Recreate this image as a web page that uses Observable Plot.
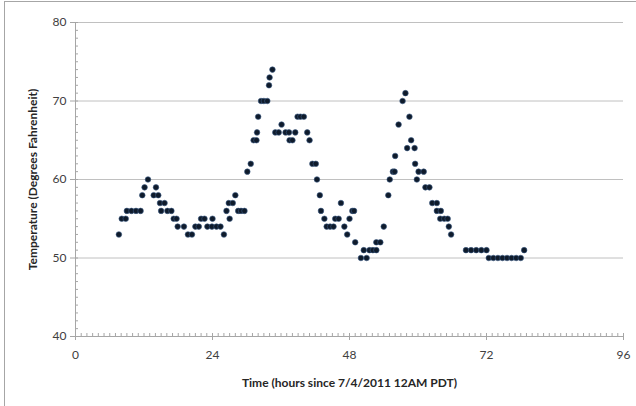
<!DOCTYPE html>
<html>
<head>
<meta charset="utf-8">
<script src="https://cdn.jsdelivr.net/npm/d3@7"></script>
<script src="https://cdn.jsdelivr.net/npm/@observablehq/plot@0.6"></script>
<style>
  html, body { margin: 0; padding: 0; background: white; }
  #wrap { position: relative; width: 636px; height: 406px; overflow: hidden; }
  #frame { position: absolute; left: 4px; top: 1px; width: 700px; height: 500px;
           border-left: 1px solid #a6a6a6; border-top: 1px solid #a6a6a6; pointer-events: none; }
</style>
</head>
<body>
<div id="wrap"><div id="frame"></div></div>
<script>
// Hours since 7/4/2011 12AM PDT
const hours = [
  7.6, 8.1, 8.8, 9.0, 9.8, 10.6, 11.4, 11.7, 12.1, 12.7,
  13.7, 14.1, 14.5, 14.8, 15.0, 15.6, 16.1, 16.8, 17.2, 17.7,
  17.9, 19.0, 19.7, 20.4, 21.0, 21.6, 22.0, 22.6, 23.1, 23.9,
  24.0, 24.7, 25.4, 26.0, 26.45, 26.85, 27.0, 27.55, 28.0, 28.5,
  29.0, 29.6, 30.1, 30.7, 31.2, 31.7, 31.8, 32.0, 32.5, 33.0,
  33.6, 33.9, 34.0, 34.5, 35.0, 35.6, 36.1, 36.8, 37.4, 37.5,
  38.0, 38.5, 38.9, 39.4, 40.0, 40.6, 41.0, 41.5, 42.1, 42.3,
  42.8, 43.0, 43.6, 44.0, 44.6, 45.2, 45.5, 46.1, 46.5, 47.1,
  47.6, 48.0, 48.5, 48.8, 49.0, 50.0, 50.5, 51.0, 51.5, 52.1,
  52.7, 52.7, 53.4, 54.0, 54.8, 55.05, 55.6, 55.9, 56.0, 56.6,
  57.3, 57.8, 58.1, 58.5, 58.8, 59.4, 59.5, 59.8, 60.1, 61.0,
  61.3, 62.0, 62.5, 63.3, 63.3, 63.9, 64.0, 64.6, 65.2, 65.4,
  65.8, 68.4, 69.3, 70.2, 71.1, 72.0, 72.4, 73.2, 74.0, 74.8,
  75.6, 76.4, 77.2, 78.0, 78.6
];
// Temperature (degrees Fahrenheit)
const temps = [
  53, 55, 55, 56, 56, 56, 56, 58, 59, 60,
  58, 59, 58, 57, 56, 57, 56, 56, 55, 55,
  54, 54, 53, 53, 54, 54, 55, 55, 54, 54,
  55, 54, 54, 53, 56, 57, 55, 57, 58, 56,
  56, 56, 61, 62, 65, 65, 66, 68, 70, 70,
  70, 72, 73, 74, 66, 66, 67, 66, 66, 65,
  65, 66, 68, 68, 68, 66, 65, 62, 62, 60,
  58, 56, 55, 54, 54, 54, 55, 55, 57, 54,
  53, 55, 56, 56, 52, 50, 51, 50, 51, 51,
  51, 52, 52, 54, 58, 60, 61, 61, 63, 67,
  70, 71, 64, 68, 65, 64, 62, 60, 61, 61,
  59, 59, 57, 57, 56, 55, 56, 55, 55, 54,
  53, 51, 51, 51, 51, 51, 50, 50, 50, 50,
  50, 50, 50, 50, 51
];
const xTicks = [0, 24, 48, 72, 96];
const yTicks = [40, 50, 60, 70, 80];
const xTitle = "Time (hours since 7/4/2011 12AM PDT)";
const yTitle = "Temperature (Degrees Fahrenheit)";

const data = hours.map((h, i) => ({h, t: temps[i]}));
const axisColor = "#a6a6a6";

const chart = Plot.plot({
  width: 636,
  height: 406,
  marginLeft: 75,
  marginRight: 13,
  marginTop: 22,
  marginBottom: 70,
  x: {domain: [0, 96]},
  y: {domain: [40, 80]},
  style: {fontFamily: "Lato, 'Open Sans', sans-serif", fontSize: "12px", color: "#404040", background: "transparent"},
  marks: [
    Plot.gridY(yTicks.filter(d => d > 40), {stroke: "#c0c0c0", strokeOpacity: 1, strokeWidth: 1}),
    Plot.axisY(d3.range(40, 81), {tickSize: -3, text: null, stroke: axisColor, label: null}),
    Plot.axisX(d3.range(0, 97), {tickSize: -3, text: null, stroke: axisColor, label: null}),
    Plot.axisY(yTicks, {tickSize: 5, tickPadding: 4, stroke: axisColor, fill: "#404040", label: null}),
    Plot.axisX(xTicks, {tickSize: 4, tickPadding: 10, stroke: axisColor, fill: "#404040", label: null}),
    Plot.ruleY([40], {stroke: axisColor}),
    Plot.ruleX([0], {stroke: axisColor}),
    Plot.text([xTitle], {frameAnchor: "bottom", dy: 47, lineAnchor: "middle", fontWeight: "bold", fontSize: 12, fill: "#262626"}),
    Plot.text([yTitle], {frameAnchor: "left", dx: -42, rotate: -90, textAnchor: "middle", lineAnchor: "middle", fontWeight: "bold", fontSize: 12, fill: "#262626"}),
    Plot.dot(data, {x: "h", y: "t", r: 2.8, fill: "#0f1b2b", stroke: "#3b5b85", strokeWidth: 0.6})
  ]
});
document.getElementById("wrap").prepend(chart);
</script>
</body>
</html>
